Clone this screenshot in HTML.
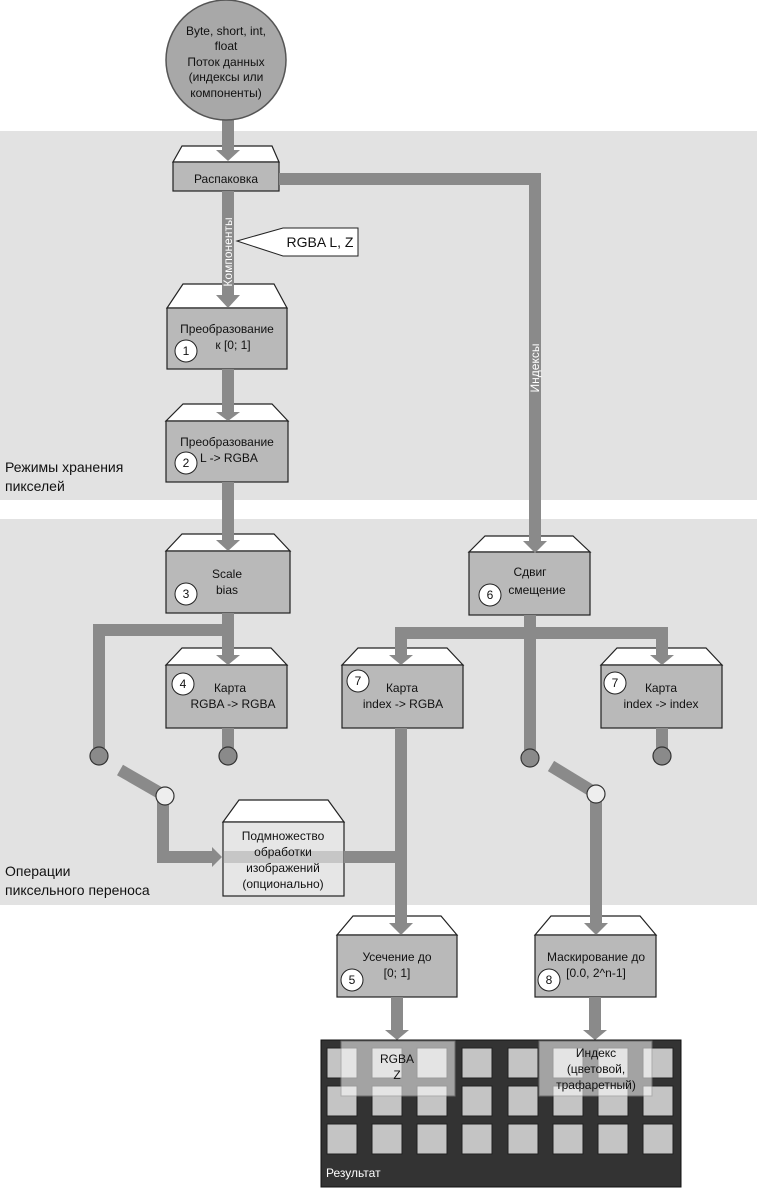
<!DOCTYPE html>
<html><head><meta charset="utf-8"><style>
body{margin:0;background:#fff}
svg{display:block}
text{font-family:"Liberation Sans",sans-serif;font-size:12px;fill:#111}
</style></head><body>
<svg width="757" height="1188" viewBox="0 0 757 1188" xmlns="http://www.w3.org/2000/svg">
<rect x="0" y="131" width="757" height="369" fill="#e2e2e2"/>
<rect x="0" y="519" width="757" height="386" fill="#e2e2e2"/>

<g stroke="#222" stroke-width="1.2">
<polygon points="182,146 272,146 279,162 173,162" fill="#fff"/>
<rect x="173" y="162" width="106" height="29" fill="#b9b9b9"/>
<polygon points="183,284 274,284 287,308 167,308" fill="#fff"/>
<rect x="167" y="308" width="120" height="61" fill="#b9b9b9"/>
<polygon points="183,404 272,404 288,421 166,421" fill="#fff"/>
<rect x="166" y="421" width="122" height="61" fill="#b9b9b9"/>
<polygon points="182,534 274,534 290,551 166,551" fill="#fff"/>
<rect x="166" y="551" width="124" height="62" fill="#b9b9b9"/>
<polygon points="485,536 573,536 590,552 469,552" fill="#fff"/>
<rect x="469" y="552" width="121" height="63" fill="#b9b9b9"/>
<polygon points="182,648 271,648 287,665 166,665" fill="#fff"/>
<rect x="166" y="665" width="121" height="63" fill="#b9b9b9"/>
<polygon points="358,648 447,648 463,665 342,665" fill="#fff"/>
<rect x="342" y="665" width="121" height="63" fill="#b9b9b9"/>
<polygon points="617,648 706,648 722,665 601,665" fill="#fff"/>
<rect x="601" y="665" width="121" height="63" fill="#b9b9b9"/>
<polygon points="239,800 328,800 344,822 223,822" fill="#fff"/>
<rect x="223" y="822" width="121" height="74" fill="#e6e6e6"/>
<polygon points="353,916 441,916 457,935 337,935" fill="#fff"/>
<rect x="337" y="935" width="120" height="62" fill="#b9b9b9"/>
<polygon points="551,916 640,916 656,935 535,935" fill="#fff"/>
<rect x="535" y="935" width="121" height="62" fill="#b9b9b9"/>
</g>
<rect x="223" y="851" width="121" height="12" fill="#8a8a8a" opacity="0.35"/>

<g fill="none" stroke="#8a8a8a" stroke-width="12">
<line x1="228" y1="118" x2="228" y2="152"/>
<line x1="228" y1="191" x2="228" y2="295"/>
<line x1="228" y1="369" x2="228" y2="413"/>
<line x1="228" y1="482" x2="228" y2="541"/>
<polyline points="279,179 535,179 535,541"/>
<polyline points="228,613 228,656"/>
<polyline points="228,630 99,630 99,748"/>
<line x1="228" y1="728" x2="228" y2="748"/>
<line x1="120" y1="770" x2="160" y2="793"/>
<polyline points="163,800 163,857 212,857"/>
<line x1="344" y1="857" x2="401" y2="857"/>
<line x1="401" y1="728" x2="401" y2="924"/>
<line x1="530" y1="615" x2="530" y2="750"/>
<polyline points="401,656 401,633 662,633 662,656"/>
<line x1="551" y1="766" x2="592" y2="791"/>
<line x1="596" y1="800" x2="596" y2="924"/>
<line x1="662" y1="728" x2="662" y2="750"/>
<line x1="397" y1="997" x2="397" y2="1030"/>
<line x1="595" y1="997" x2="595" y2="1030"/>
</g>
<g fill="#8a8a8a">
<polygon points="216,150 240,150 228,161"/>
<polygon points="523,541 547,541 535,553"/>
<polygon points="216,295 240,295 228,308"/>
<polygon points="216,412 240,412 228,421"/>
<polygon points="216,540 240,540 228,551"/>
<polygon points="216,655 240,655 228,665"/>
<polygon points="389,655 413,655 401,665"/>
<polygon points="650,655 674,655 662,665"/>
<polygon points="212,847 212,867 222,857"/>
<polygon points="389,923 413,923 401,935"/>
<polygon points="584,923 608,923 596,935"/>
<polygon points="385,1030 409,1030 397,1040"/>
<polygon points="583,1030 607,1030 595,1040"/>
</g>

<circle cx="226" cy="60" r="60" fill="#a8a8a8" stroke="#555" stroke-width="1.5"/>
<text x="226" y="35" text-anchor="middle">Byte, short, int,</text>
<text x="226" y="50" text-anchor="middle">float</text>
<text x="226" y="66" text-anchor="middle">Поток данных</text>
<text x="226" y="81" text-anchor="middle">(индексы или</text>
<text x="226" y="97" text-anchor="middle">компоненты)</text>

<g stroke="#333" stroke-width="1.2">
<circle cx="99" cy="756" r="9" fill="#8a8a8a"/>
<circle cx="228" cy="756" r="9" fill="#8a8a8a"/>
<circle cx="165" cy="796" r="9" fill="#eee"/>
<circle cx="530" cy="758" r="9" fill="#8a8a8a"/>
<circle cx="662" cy="756" r="9" fill="#8a8a8a"/>
<circle cx="596" cy="794" r="9" fill="#eee"/>
</g>
<g stroke="#222" stroke-width="1" fill="#fff">
<circle cx="186" cy="351" r="11"/>
<circle cx="186" cy="463" r="11"/>
<circle cx="186" cy="594" r="11"/>
<circle cx="490" cy="595" r="11"/>
<circle cx="183" cy="684" r="11"/>
<circle cx="358" cy="681" r="11"/>
<circle cx="615" cy="683" r="11"/>
<circle cx="352" cy="980" r="11"/>
<circle cx="549" cy="980" r="11"/>
</g>
<g text-anchor="middle">
<text x="186" y="355">1</text><text x="186" y="467">2</text><text x="186" y="598">3</text>
<text x="490" y="599">6</text><text x="183" y="688">4</text><text x="358" y="685">7</text>
<text x="615" y="687">7</text><text x="352" y="984">5</text><text x="549" y="984">8</text>
<text x="226" y="183">Распаковка</text>
<text x="227" y="333">Преобразование</text><text x="233" y="349">к [0; 1]</text>
<text x="227" y="446">Преобразование</text><text x="229" y="462">L -&gt; RGBA</text>
<text x="227" y="578">Scale</text><text x="227" y="594">bias</text>
<text x="530" y="576">Сдвиг</text><text x="537" y="594">смещение</text>
<text x="230" y="692">Карта</text><text x="233" y="708">RGBA -&gt; RGBA</text>
<text x="402" y="692">Карта</text><text x="403" y="708">index -&gt; RGBA</text>
<text x="661" y="692">Карта</text><text x="661" y="708">index -&gt; index</text>
<text x="283" y="840">Подмножество</text><text x="283" y="856">обработки</text>
<text x="283" y="872">изображений</text><text x="283" y="888">(опционально)</text>
<text x="397" y="961">Усечение до</text><text x="397" y="977">[0; 1]</text>
<text x="596" y="961">Маскирование до</text><text x="596" y="977">[0.0, 2^n-1]</text>
</g>
<text transform="translate(232,252) rotate(-90)" text-anchor="middle" style="fill:#fff">Компоненты</text>
<text transform="translate(539,368) rotate(-90)" text-anchor="middle" style="fill:#fff">Индексы</text>
<polygon points="237,241 283,228 358,228 358,256 283,256" fill="#fff" stroke="#222"/>
<text x="320" y="247" text-anchor="middle" style="font-size:14px">RGBA L, Z</text>
<text x="5" y="472" style="font-size:14px">Режимы хранения</text>
<text x="5" y="491" style="font-size:14px">пикселей</text>
<text x="5" y="876" style="font-size:14px">Операции</text>
<text x="5" y="895" style="font-size:14px">пиксельного переноса</text>

<rect x="321" y="1040" width="360" height="147" fill="#333" stroke="#111"/>
<g fill="#c4c4c4" stroke="#222">
<rect x="327" y="1048" width="30" height="30"/><rect x="372" y="1048" width="30" height="30"/><rect x="417" y="1048" width="30" height="30"/><rect x="462" y="1048" width="30" height="30"/><rect x="508" y="1048" width="30" height="30"/><rect x="553" y="1048" width="30" height="30"/><rect x="598" y="1048" width="30" height="30"/><rect x="643" y="1048" width="30" height="30"/>
<rect x="327" y="1086" width="30" height="30"/><rect x="372" y="1086" width="30" height="30"/><rect x="417" y="1086" width="30" height="30"/><rect x="462" y="1086" width="30" height="30"/><rect x="508" y="1086" width="30" height="30"/><rect x="553" y="1086" width="30" height="30"/><rect x="598" y="1086" width="30" height="30"/><rect x="643" y="1086" width="30" height="30"/>
<rect x="327" y="1124" width="30" height="30"/><rect x="372" y="1124" width="30" height="30"/><rect x="417" y="1124" width="30" height="30"/><rect x="462" y="1124" width="30" height="30"/><rect x="508" y="1124" width="30" height="30"/><rect x="553" y="1124" width="30" height="30"/><rect x="598" y="1124" width="30" height="30"/><rect x="643" y="1124" width="30" height="30"/>
</g>
<rect x="341" y="1041" width="114" height="55" fill="#fff" opacity="0.55" stroke="#999"/>
<rect x="539" y="1041" width="113" height="55" fill="#fff" opacity="0.55" stroke="#999"/>
<text x="397" y="1063" text-anchor="middle">RGBA</text>
<text x="397" y="1079" text-anchor="middle">Z</text>
<text x="596" y="1057" text-anchor="middle">Индекс</text>
<text x="596" y="1073" text-anchor="middle">(цветовой,</text>
<text x="596" y="1089" text-anchor="middle">трафаретный)</text>
<text x="326" y="1177" style="fill:#fff">Результат</text>
</svg>
</body></html>
